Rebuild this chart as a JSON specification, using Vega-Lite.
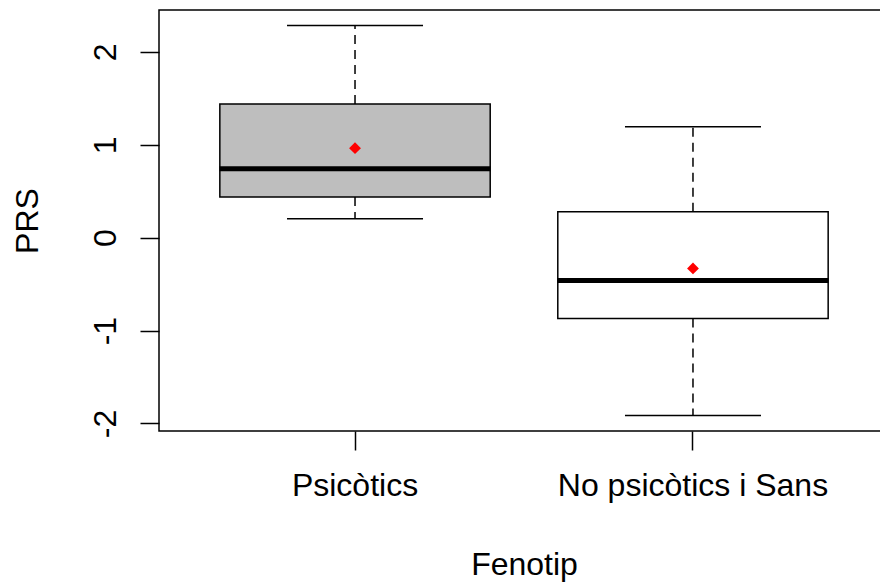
{
  "$schema": "https://vega.github.io/schema/vega-lite/v6.json",
  "autosize": {"type": "none"},
  "padding": {"left": 159, "top": 10, "right": 0, "bottom": 155},
  "width": 730,
  "height": 421,
  "background": "white",
  "config": {
    "view": {"stroke": "black", "strokeWidth": 1.5},
    "font": "Liberation Sans",
    "axis": {
      "labelFont": "Liberation Sans",
      "titleFont": "Liberation Sans",
      "labelFontSize": 32,
      "titleFontSize": 32,
      "titleFontWeight": "normal",
      "labelColor": "black",
      "titleColor": "black",
      "tickColor": "black",
      "tickSize": 19,
      "tickWidth": 1.5,
      "labelLimit": 0,
      "domain": false,
      "grid": false
    }
  },
  "data": {
    "values": [
      {"group": "Psicòtics", "lower": 0.205, "q1": 0.439, "median": 0.744, "q3": 1.439, "upper": 2.284, "mean": 0.964},
      {"group": "No psicòtics i Sans", "lower": -1.913, "q1": -0.870, "median": -0.460, "q3": 0.280, "upper": 1.194, "mean": -0.330}
    ]
  },
  "encoding": {
    "x": {
      "field": "group",
      "type": "nominal",
      "sort": ["Psicòtics", "No psicòtics i Sans"],
      "scale": {"paddingInner": 0, "paddingOuter": 0.08},
      "axis": {"title": "Fenotip", "labelAngle": 0, "labelPadding": 20, "titlePadding": 48, "labelLimit": 0}
    }
  },
  "layer": [
    {
      "mark": {"type": "rule", "strokeDash": [9, 6], "strokeWidth": 1.5, "color": "black"},
      "encoding": {
        "y": {"field": "q3", "type": "quantitative", "scale": {"domain": [-2.081, 2.452], "nice": false, "zero": false},
          "axis": {"title": "PRS", "values": [-2, -1, 0, 1, 2], "labelExpr": "'' + datum.value", "labelAngle": -90, "labelAlign": "center", "labelBaseline": "alphabetic", "labelPadding": 25, "titlePadding": 45}},
        "y2": {"field": "upper"}
      }
    },
    {
      "mark": {"type": "rule", "strokeDash": [9, 6], "strokeWidth": 1.5, "color": "black"},
      "encoding": {
        "y": {"field": "q1", "type": "quantitative"},
        "y2": {"field": "lower"}
      }
    },
    {
      "mark": {"type": "tick", "size": 136, "thickness": 1.5, "color": "black", "opacity": 1},
      "encoding": {"y": {"field": "upper", "type": "quantitative"}}
    },
    {
      "mark": {"type": "tick", "size": 136, "thickness": 1.5, "color": "black", "opacity": 1},
      "encoding": {"y": {"field": "lower", "type": "quantitative"}}
    },
    {
      "mark": {"type": "bar", "width": {"band": 0.8}, "stroke": "black", "strokeWidth": 1.5, "opacity": 1},
      "encoding": {
        "y": {"field": "q1", "type": "quantitative"},
        "y2": {"field": "q3"},
        "fill": {"field": "group", "type": "nominal", "scale": {"domain": ["Psicòtics", "No psicòtics i Sans"], "range": ["#BEBEBE", "#FFFFFF"]}, "legend": null}
      }
    },
    {
      "mark": {"type": "tick", "size": 271, "thickness": 5, "color": "black", "opacity": 1},
      "encoding": {"y": {"field": "median", "type": "quantitative"}}
    },
    {
      "mark": {"type": "point", "shape": "diamond", "filled": true, "size": 140, "color": "#FF0000", "opacity": 1},
      "encoding": {"y": {"field": "mean", "type": "quantitative"}}
    }
  ]
}
